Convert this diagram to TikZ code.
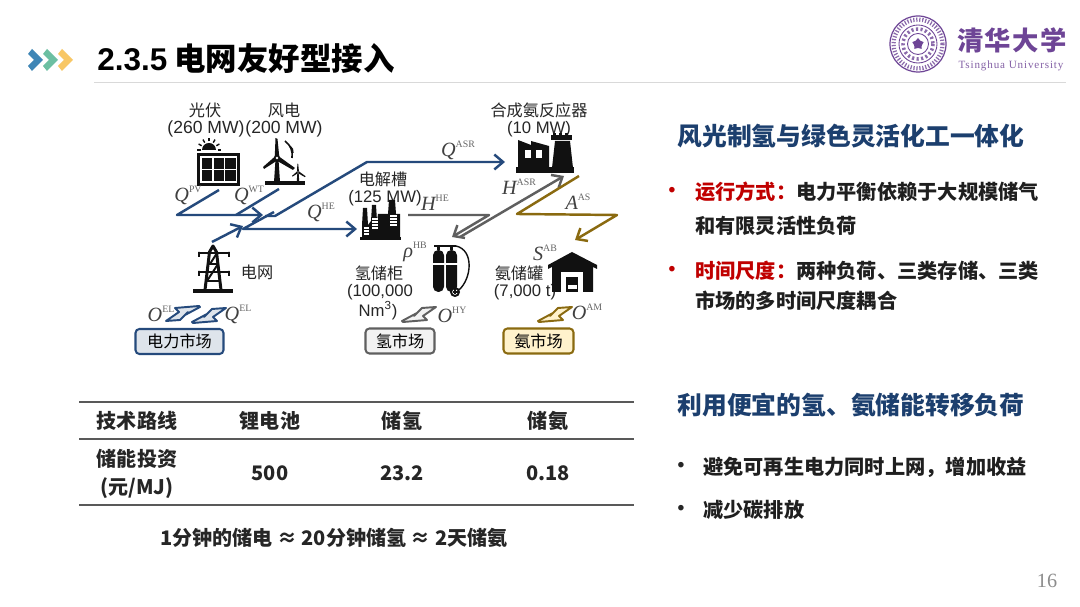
\documentclass[tikz,border=0pt]{standalone}
\usepackage[no-math]{fontspec}
\usepackage{amsmath}
\setmainfont{Noto Sans CJK SC}
\newfontfamily\lat{Liberation Sans}
\newfontfamily\ser{Liberation Serif}
\usetikzlibrary{calc,arrows.meta,shapes.geometric}
\definecolor{navy}{HTML}{254A7C}
\definecolor{ashgray}{HTML}{5F5F5F}
\definecolor{ochre}{HTML}{8A6A10}
\definecolor{cream}{HTML}{FFF2CC}
\definecolor{headblue}{HTML}{1C3F6E}
\definecolor{brick}{HTML}{C00000}
\definecolor{thupurple}{HTML}{6E4596}
\definecolor{iconblack}{HTML}{111111}
\newcommand{\fsz}[1]{\fontsize{#1}{#1}\selectfont}
\newcommand{\symb}[2]{{\ser\itshape\fsz{11.5}#1}\raisebox{0.95ex}{\ser\fsz{5.6}\color{black!60}#2}}
% hollow slanted arrow, tip at #2, turned by #3
\newcommand{\hollowarrow}[4]{\draw[line width=1.1pt,line join=round,#1,fill=#4,rotate around={#3:(#2)},shift={(#2)}]
  (0,0)--(15,-8)--(12,-5)--(20,-13)--(34,-14)--(21,-5)--(25,-1)--(1,1)--cycle;}
\newcommand{\turbine}[3]{\begin{scope}[shift={(#1,#2)},scale=#3]
  \fill[iconblack] (-2.2,-2)--(-1.5,-20)--(0.5,-19)--(2.2,-2)--cycle;
  \fill[iconblack] (-2,-1.5)--(-14,9)--(-13,11)--(1,2)--cycle;
  \fill[iconblack] (1,-2.2)--(18,10)--(16,12)--(-0.5,2.5)--cycle;
  \fill[iconblack] (-1.6,3)--(1.6,3)--(3,24)--(-3,24)--cycle;
  \fill[iconblack] (0,0) circle (3.2); \fill[white] (0,0) circle (1.4);
  \end{scope}}
\tikzset{
  lbl/.style={inner sep=0,font=\fsz{9.5}\lat,text=black!85},
  cjklbl/.style={inner sep=0,font=\fsz{9.2},text=black!85},
  sym/.style={inner sep=0,text=black!75},
  powerline/.style={navy,line width=1.4pt,line join=round},
  gasline/.style={ashgray,line width=1.4pt,line join=round},
  ammline/.style={ochre,line width=1.4pt,line join=round},
  tipbarb/.style={-{Straight Barb[length=5pt,width=8.5pt,line width=1.4pt]}},
  market/.style={draw,line width=1.15pt,rounded corners=2.2pt,inner sep=0,minimum height=0.5cm,font=\fsz{9.2}},
  head/.style={inner sep=0,font=\fsz{14.1}\bfseries,text=headblue},
  item/.style={inner sep=0,anchor=west,font=\fsz{11.5}\bfseries,text=black!88},
  cell/.style={inner sep=0,font=\fsz{11.4}\bfseries,text=black!85},
  dotmark/.style={inner sep=0,font=\fsz{11}\lat\bfseries},
  rowline/.style={draw=black!65,line width=0.85pt}
}
\begin{document}
\begin{tikzpicture}[x=0.02cm,y=-0.02cm]
\useasboundingbox[fill=white] (0,0) rectangle (1080,607);
% title bar
\foreach \cx/\cc in {28/3F86B6,43/6CBFA2,58/F8C765}{
  \definecolor{chev}{HTML}{\cc}
  \fill[chev] (\cx,54)--(\cx+4,49)--(\cx+15,60)--(\cx+4,71)--(\cx,66)--(\cx+6,60)--cycle;
}
\node[anchor=west,inner sep=0,text=black,font=\fsz{17.9}\bfseries] (title) at (97,59) {{\lat 2.3.5} 电网友好型接入};
\draw[black!15,line width=0.5pt] (94,82)--(1066,82);
% logo
\coordinate (seal) at (918,44);
\draw[thupurple,line width=0.7pt] (seal) circle (28);
\draw[thupurple!80,line width=2.4pt,dash pattern=on 0.7pt off 1pt] (seal) circle (24.5);
\draw[thupurple,line width=0.5pt] (seal) circle (19);
\draw[thupurple!80,line width=2pt,dash pattern=on 1.2pt off 1.4pt] (seal) circle (15);
\draw[thupurple,line width=0.5pt] (seal) circle (10.5);
\node[star,star points=5,fill=thupurple,inner sep=0,minimum size=0.24cm] (sealstar) at (seal) {};
\node[inner sep=0,text=thupurple,font=\fsz{15}\bfseries\addfontfeature{LetterSpace=5}] (thuname) at (1012,40) {清华大学};
\node[inner sep=0,text=thupurple!85,font=\fsz{6.3}\ser\addfontfeature{LetterSpace=8}] (thuen) at (1011,66) {Tsinghua University};
% labels of the plant
\node[cjklbl] (pvname) at (205,110) {光伏};
\node[lbl,font=\fsz{10}\lat] (pvcap) at (206,129) {(260 MW)};
\node[cjklbl] (wtname) at (284,110) {风电};
\node[lbl,font=\fsz{10}\lat] (wtcap) at (284,129) {(200 MW)};
\node[cjklbl] (asrname) at (539,110) {合成氨反应器};
\node[lbl] (asrcap) at (539,129) {(10 MW)};
\node[cjklbl] (hename) at (383,179) {电解槽};
\node[lbl] (hecap) at (385,198) {(125 MW)};
\node[cjklbl] (gridname) at (257,272) {电网};
\node[cjklbl] (hbname) at (379,273) {氢储柜};
\node[lbl] (hbcap) at (380,292) {(100,000};
\node[lbl] (hbunit) at (378,311) {Nm\textsuperscript{3})};
\node[cjklbl] (abname) at (519,273) {氨储罐};
\node[lbl] (abcap) at (525,292) {(7,000 t)};
% icons
\fill[iconblack] (197,153) rectangle (240,186);
\fill[white] (199.8,155.8) rectangle (237.2,183.2);
\foreach \i in {0,1,2}{\foreach \j in {0,1}{
  \fill[iconblack] (202+\i*11.6,158+\j*12) rectangle (212.4+\i*11.6,168.6+\j*12);
}}
\fill[iconblack] (202,150) arc[start angle=180,end angle=360,radius=7] -- cycle;
\foreach \a in {180,210,...,360}{
  \draw[iconblack,line width=0.8pt] ($(209,150)+(\a:8.5)$) -- ($(209,150)+(\a:12)$);
}
\turbine{277}{158}{1}
\turbine{298}{172}{0.42}
\fill[iconblack] (265,181) rectangle (305,185);
\draw[iconblack,line width=0.9pt] (285,141) to[bend left=30] (292,158);
\draw[iconblack,line width=0.7pt] (290,146) to[bend left=30] (293,153);
% electrolyser
\fill[iconblack] (360,237) rectangle (401,240);
\fill[iconblack] (362,237)--(362,225)--(363,208)--(367,208)--(368,225)--(371,221)--(372,205)--(376,205)--(377,221)--(378,214)--(388,214)--(389,200)--(395,200)--(396,214)--(400,214)--(400,237)--cycle;
\foreach \sy in {228,231,234}{\draw[white,line width=0.7pt] (364,\sy)--(369,\sy);}
\foreach \sy in {219,222,225,228}{\draw[white,line width=0.7pt] (372,\sy)--(378,\sy);}
\foreach \sy in {216,219,222,225}{\draw[white,line width=0.7pt] (390,\sy)--(397,\sy);}
% reactor
\fill[iconblack] (516,167) rectangle (574,173);
\fill[iconblack] (518,168)--(518,140)--(531,145)--(531,141)--(549,146)--(549,168)--cycle;
\fill[iconblack] (552,168)--(555,141)--(570,141)--(573,168)--cycle;
\fill[iconblack] (551,135) rectangle (572,140);
\fill[iconblack] (553,133) rectangle (556,136); \fill[iconblack] (559,133) rectangle (562,136); \fill[iconblack] (565,133) rectangle (568,136);
\fill[white] (525,150) rectangle (531,158); \fill[white] (536,150) rectangle (542,158);
% pylon
\fill[iconblack] (193,289) rectangle (233,293);
\draw[iconblack,line width=1.7pt,line join=round] (205,290)--(209.5,252)--(213,246)--(216.5,252)--(221,290);
\draw[iconblack,line width=1.3pt] (198,253)--(230,253) (198,272)--(230,272) (208,264)--(219,264) (206,281)--(220,281);
\draw[iconblack,line width=1.1pt] (210,264)--(217,253) (207,281)--(218,264) (199,252)--(199,257) (229,252)--(229,257) (199,271)--(199,276) (229,271)--(229,276);
% tanks
\fill[iconblack,rounded corners=3pt] (433,250) rectangle (444,292);
\fill[iconblack,rounded corners=3pt] (446,250) rectangle (457,292);
\draw[white,line width=0.8pt] (432,264)--(458,264);
\draw[iconblack,line width=1.2pt] (434,246)--(456,246) (438.5,246)--(438.5,250) (451.5,246)--(451.5,250);
\draw[iconblack,line width=0.8pt] (456,246) .. controls (474,250) and (472,278) .. (459,290);
\draw[iconblack,fill=white,line width=1.1pt] (455,292) circle (4);
\draw[iconblack,line width=0.7pt] (452.5,292)--(457.5,292) (455,289.5)--(455,294.5);
% warehouse
\fill[iconblack] (572,252)--(597,265)--(597,269)--(593,267)--(593,292)--(552,292)--(552,267)--(548,269)--(548,265)--cycle;
\fill[white] (561,272) rectangle (583,292);
\fill[iconblack] (566,277) rectangle (578,292);
\fill[white] (567.5,285) rectangle (576.5,289);
% connectors
\coordinate (pvout) at (219,190); \coordinate (pvbend) at (177,215); \coordinate (busin) at (263,215);
\coordinate (wtout) at (279,189); \coordinate (wtbend) at (236,215);
\coordinate (busout) at (265,216); \coordinate (busbend) at (275,216); \coordinate (asrbend) at (367,162); \coordinate (asrin) at (505,162);
\coordinate (gridout) at (212,242); \coordinate (gridtip) at (243,226);
\coordinate (hetop) at (274,212); \coordinate (hebend) at (243,229); \coordinate (hein) at (357,229);
\draw[powerline,tipbarb] (pvout)--(pvbend)--(busin);
\draw[powerline] (wtout)--(wtbend);
\draw[powerline,tipbarb] (busout)--(busbend)--(asrbend)--(asrin);
\draw[powerline,tipbarb] (gridout)--(gridtip);
\draw[powerline,tipbarb] (hetop)--(hebend)--(hein);
\coordinate (hhout) at (408,215); \coordinate (hhbend) at (489,215); \coordinate (hbin) at (452,237);
\coordinate (hbout) at (460,237); \coordinate (asrgas) at (564,176);
\draw[gasline,tipbarb] (hhout)--(hhbend)--(hbin);
\draw[gasline,tipbarb] (hbout)--(asrgas);
\coordinate (amout) at (579,176); \coordinate (ambend) at (517,214); \coordinate (amright) at (617,215); \coordinate (abin) at (575,240);
\draw[ammline,tipbarb] (amout)--(ambend)--(amright)--(abin);
% market arrows
\coordinate (elin) at (200,307); \coordinate (elout) at (192,322); \coordinate (hyout) at (402,321); \coordinate (amkt) at (538,321);
\hollowarrow{navy}{elin}{180}{navy!15}
\hollowarrow{navy}{elout}{0}{navy!15}
\hollowarrow{ashgray}{hyout}{0}{black!5}
\hollowarrow{ochre}{amkt}{0}{cream}
% symbols
\node[sym] (qpv) at (188,195) {\symb{Q}{PV}};
\node[sym] (qwt) at (249,195) {\symb{Q}{WT}};
\node[sym] (qhe) at (321,212) {\symb{Q}{HE}};
\node[sym] (qasr) at (458,150) {\symb{Q}{ASR}};
\node[sym] (hhe) at (435,203) {\symb{H}{HE}};
\node[sym] (hasr) at (519,187) {\symb{H}{ASR}};
\node[sym] (aas) at (578,202) {\symb{A}{AS}};
\node[sym] (rhb) at (415,252) {\symb{ρ}{HB}};
\node[sym] (sab) at (545,253) {\symb{S}{AB}};
\node[sym] (oel) at (161,314) {\symb{O}{EL}};
\node[sym] (qel) at (238,314) {\symb{Q}{EL}};
\node[sym] (ohy) at (452,315) {\symb{O}{HY}};
\node[sym] (oam) at (587,312) {\symb{O}{AM}};
% markets
\node[market,draw=navy,fill=navy!15,minimum width=1.76cm] (elmkt) at (179.5,341.5) {电力市场};
\node[market,draw=ashgray,fill=black!5,minimum width=1.38cm] (hymkt) at (400,341) {氢市场};
\node[market,draw=ochre,fill=cream,minimum width=1.4cm] (ammkt) at (538.5,341) {氨市场};
% table
\draw[rowline] (79,402)--(634,402);
\draw[rowline] (79,439)--(634,439);
\draw[rowline] (79,505)--(634,505);
\node[cell] (ta) at (137,421) {技术路线};
\node[cell] (tb) at (270,421) {锂电池};
\node[cell] (tc) at (402,421) {储氢};
\node[cell] (td) at (548,421) {储氨};
\node[cell] (tf) at (137,459) {储能投资};
\node[cell] (tg) at (137,488) {(元/MJ)};
\node[cell] (th) at (270,473) {500};
\node[cell] (ti) at (402,473) {23.2};
\node[cell] (tj) at (548,473) {0.18};
\node[cell] (tnote) at (334,538) {1分钟的储电 ≈ 20分钟储氢 ≈ 2天储氨};
% right column
\node[head] (heada) at (851,136) {风光制氢与绿色灵活化工一体化};
\node[head] (headb) at (851,405) {利用便宜的氢、氨储能转移负荷};
\node[dotmark,text=brick] (bula) at (672,192) {•};
\node[item] (linea) at (695,192) {\textcolor{brick}{运行方式：}电力平衡依赖于大规模储气};
\node[item] (lineb) at (695,226) {和有限灵活性负荷};
\node[dotmark,text=brick] (bulb) at (672,271) {•};
\node[item] (linec) at (695,271) {\textcolor{brick}{时间尺度：}两种负荷、三类存储、三类};
\node[item] (lined) at (695,301) {市场的多时间尺度耦合};
\node[dotmark,text=black!85] (bulc) at (681,467) {•};
\node[item] (linee) at (703,467) {避免可再生电力同时上网，增加收益};
\node[dotmark,text=black!85] (buld) at (681,510) {•};
\node[item] (linef) at (703,510) {减少碳排放};
\node[inner sep=0,text=black!45,font=\fsz{11.5}\ser] (pageno) at (1047,581) {16};
\end{tikzpicture}
\end{document}
